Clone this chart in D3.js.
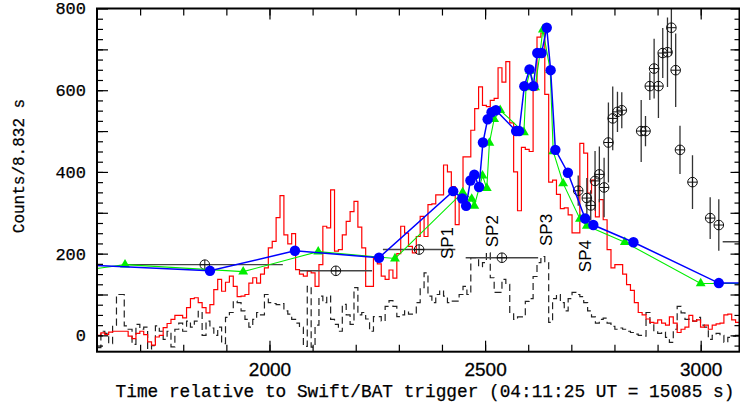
<!DOCTYPE html>
<html>
<head>
<meta charset="utf-8">
<script src="https://cdnjs.cloudflare.com/ajax/libs/d3/7.8.5/d3.min.js"></script>
<style>
body { margin: 0; background: #fff; }
</style>
</head>
<body>
<script>
// light curve bins
var binStart = 1600
var binWidth = 9.03
var redCounts = [0,6,2,8,10,10,10,10,-2,-8,
	5,10,2,-16,-24,-4,0,19,29,39,
	49,49,43,68,90,92,80,68,55,75,
	112,137,108,130,145,120,95,96,100,128,
	141,128,150,165,214,230,288,342,246,224,
	249,161,150,145,157,153,120,173,267,263,
	356,206,210,246,279,303,328,265,214,120,
	120,190,175,145,137,160,140,200,267,250,
	218,202,242,291,242,320,322,344,344,417,
	400,364,271,340,437,437,502,555,608,563,
	560,575,580,655,620,670,520,400,305,460,
	455,450,600,730,740,590,375,380,345,310,
	312,295,251,251,470,446,348,380,290,332,
	283,210,165,173,173,150,124,110,80,56,
	50,40,32,30,38,30,25,45,30,7,
	15,20,49,35,38,20,25,15,25,28,
	30,50,52,38,32]
var dashCounts = [-30,10,5,-20,25,100,100,23,15,-22,
	27,15,20,-34,-25,23,10,-10,10,-28,
	15,30,10,35,20,35,59,0,35,18,
	0,20,-20,44,56,84,80,60,39,20,
	39,56,50,100,80,78,75,78,60,52,
	39,30,20,-27,120,-29,25,96,80,96,
	39,27,10,76,50,27,117,50,56,40,
	10,46,46,35,71,85,71,46,50,60,
	52,55,80,117,153,96,80,100,110,96,
	80,84,84,100,120,100,190,190,168,178,
	202,141,105,105,137,125,56,39,45,45,
	83,90,144,178,193,178,32,90,100,80,
	60,90,105,100,95,80,60,45,30,39,
	42,30,22,15,18,15,10,7,3,0,
	-2,56,30,10,5,8,-5,-17,15,71,
	55,39,40,35,44,25,20,-10,0,5,
	0,-17,-5,-2,0]

var blueTime = [1560, 1862, 2059, 2254, 2426, 2447, 2456, 2466, 2475, 2486, 2495, 2506, 2515, 2525, 2572,
	2579, 2591, 2603, 2612, 2621, 2631, 2643, 2652, 2663, 2692, 2732, 2751, 2844, 3042, 3130]
var blueCounts = [173, 158, 207, 190, 353, 335, 317, 379, 393, 363, 472, 529, 546, 551, 500,
	500, 610, 651, 610, 691, 691, 753, 649, 454, 398, 286, 270, 228, 128, 128]

var greenTime = [1560, 1665, 1939, 2113, 2291, 2448, 2469, 2475, 2494, 2504, 2510, 2521, 2535, 2590,
	2595, 2604, 2616, 2627, 2634, 2651, 2658, 2681, 2720, 2736, 2824, 3000, 3130]
var greenCounts = [158, 173, 156, 205, 188, 350, 334, 317, 391, 360, 471, 529, 551, 497,
	607, 647, 607, 688, 748, 649, 450, 372, 285, 268, 228, 127, 127]

var batTime = [1850, 2154, 2347, 2539, 2716, 2736, 2745, 2755, 2765, 2776, 2786, 2796, 2807, 2817,
	2862, 2872, 2882, 2892, 2902, 2912, 2923, 2932, 2942, 2952, 2981, 3022, 3042, 3135]
var batCounts = [173, 158, 210, 190, 354, 336, 318, 378, 394, 362, 472, 531, 547, 551,
	500, 500, 610, 653, 610, 691, 693, 753, 649, 454, 375, 287, 270, 229]
var batXerr = [181, 84, 84, 84, 0, 0, 0, 0, 0, 0, 0, 0, 0, 0,
	0, 0, 0, 0, 0, 0, 0, 0, 0, 0, 0, 0, 0, 84]
var batYerr = [0, 0, 0, 0, 37, 49, 37, 73, 68, 73, 98, 78, 49, 44,
	76, 37, 34, 73, 78, 61, 85, 68, 90, 59, 66, 51, 63, 0]

var spNames = ["SP1", "SP2", "SP3", "SP4"]
var spTime = [2412, 2515, 2641, 2732]
var spCounts = [226, 255, 258, 194]

var xTickLabels = [2000, 2500, 3000]
var yTickLabels = [0, 200, 400, 600, 800]

function main() {
	var w = 740
	var h = 414
	var left = 97, right = 739.5, top = 8.5, bottom = 351.7

	var xScale = d3.scaleLinear().domain([1600, 3090]).range([left, right])
	var yScale = d3.scaleLinear().domain([-40, 800]).range([bottom, top])

	var svg = d3.select("body")
		.append("svg")
		.attr("width", w)
		.attr("height", h)

	svg.append("clipPath")
		.attr("id", "plotArea")
		.append("rect")
		.attr("x", left)
		.attr("y", top)
		.attr("width", right - left)
		.attr("height", bottom - top)

	var plot = svg.append("g").attr("clip-path", "url(#plotArea)")

	var stepLine = d3.line()
		.x((d) => xScale(d[0]))
		.y((d) => yScale(d[1]))
		.curve(d3.curveStepAfter)

	plot.append("path")
		.datum(histPoints(dashCounts))
		.attr("d", stepLine)
		.attr("fill", "none")
		.attr("stroke", "#222")
		.attr("stroke-width", 1.2)
		.attr("stroke-dasharray", "7,4")

	plot.append("path")
		.datum(histPoints(redCounts))
		.attr("d", stepLine)
		.attr("fill", "none")
		.attr("stroke", "#ff0000")
		.attr("stroke-width", 1.2)

	// BAT points: error bars then circled crosses
	var bat = batTime.map((t, i) => ({ t: t, c: batCounts[i], xe: batXerr[i], ye: batYerr[i] }))

	plot.selectAll(".xerr")
		.data(bat.filter((d) => d.xe > 0))
		.enter().append("line")
		.attr("x1", (d) => xScale(d.t - d.xe))
		.attr("x2", (d) => xScale(d.t + d.xe))
		.attr("y1", (d) => yScale(d.c))
		.attr("y2", (d) => yScale(d.c))
		.attr("stroke", "#444")
		.attr("stroke-width", 1.4)

	plot.selectAll(".yerr")
		.data(bat.filter((d) => d.ye > 0))
		.enter().append("line")
		.attr("x1", (d) => xScale(d.t))
		.attr("x2", (d) => xScale(d.t))
		.attr("y1", (d) => yScale(d.c - d.ye))
		.attr("y2", (d) => yScale(d.c + d.ye))
		.attr("stroke", "#333")
		.attr("stroke-width", 1.3)

	var marks = plot.selectAll(".bat")
		.data(bat)
		.enter().append("g")
		.attr("transform", (d) => "translate(" + xScale(d.t) + "," + yScale(d.c) + ")")
	marks.append("circle")
		.attr("r", 4.8)
		.attr("fill", "none")
		.attr("stroke", "#111")
		.attr("stroke-width", 1)
	marks.append("path")
		.attr("d", "M-4.8,0H4.8M0,-4.8V4.8")
		.attr("stroke", "#111")
		.attr("stroke-width", 1)

	// green triangles
	var line = d3.line()
		.x((d) => xScale(d[0]))
		.y((d) => yScale(d[1]))

	plot.append("path")
		.datum(greenTime.map((t, i) => [t, greenCounts[i]]))
		.attr("d", line)
		.attr("fill", "none")
		.attr("stroke", "#00ee00")
		.attr("stroke-width", 1.1)

	plot.selectAll(".tri")
		.data(greenTime.map((t, i) => [t, greenCounts[i]]))
		.enter().append("path")
		.attr("d", d3.symbol(d3.symbolTriangle).size(42))
		.attr("transform", (d) => "translate(" + xScale(d[0]) + "," + yScale(d[1]) + ")")
		.attr("fill", "#00ee00")

	// blue circles
	plot.append("path")
		.datum(blueTime.map((t, i) => [t, blueCounts[i]]))
		.attr("d", line)
		.attr("fill", "none")
		.attr("stroke", "#0000ff")
		.attr("stroke-width", 1.5)

	plot.selectAll(".dot")
		.data(blueTime.map((t, i) => [t, blueCounts[i]]))
		.enter().append("circle")
		.attr("cx", (d) => xScale(d[0]))
		.attr("cy", (d) => yScale(d[1]))
		.attr("r", 5.2)
		.attr("fill", "#0000ff")

	// SP labels
	svg.selectAll(".sp")
		.data(spNames)
		.enter().append("text")
		.attr("transform", (d, i) => "translate(" + xScale(spTime[i]) + "," + yScale(spCounts[i]) + ") rotate(-90)")
		.attr("text-anchor", "middle")
		.attr("dy", "0.36em")
		.style("font-family", "'Liberation Sans', Arial, sans-serif")
		.style("font-size", "17px")
		.text((d) => d)

	// axes, ticks pointing inwards
	var xMinor = d3.range(1700, 3090, 100)
	var yMinor = d3.range(-25, 800, 25)
	var yMajor = d3.range(0, 900, 100)

	drawAxis(svg, d3.axisBottom(xScale).tickValues(xMinor).tickSizeInner(-7).tickFormat(""), 0, bottom)
	drawAxis(svg, d3.axisTop(xScale).tickValues(xMinor).tickSizeInner(-7).tickFormat(""), 0, top)
	drawAxis(svg, d3.axisTop(xScale).tickValues(xTickLabels).tickSizeInner(-11).tickFormat(""), 0, top)
	drawAxis(svg, d3.axisLeft(yScale).tickValues(yMinor).tickSizeInner(-6).tickFormat(""), left, 0)
	drawAxis(svg, d3.axisRight(yScale).tickValues(yMinor).tickSizeInner(-5).tickFormat(""), right, 0)
	drawAxis(svg, d3.axisRight(yScale).tickValues(yMajor).tickSizeInner(-9).tickFormat(""), right, 0)

	var xAxis = drawAxis(svg, d3.axisBottom(xScale).tickValues(xTickLabels).tickSizeInner(-11).tickPadding(11)
		.tickFormat(d3.format("d")), 0, bottom)
	xAxis.selectAll("text")
		.style("font-family", "'Liberation Sans', Arial, sans-serif")
		.style("font-size", "19px")
		.attr("fill", "#000")
		.attr("stroke", "#000")
		.attr("stroke-width", 0.3)

	var yAxis = drawAxis(svg, d3.axisLeft(yScale).tickValues(yMajor).tickSizeInner(-11).tickPadding(11)
		.tickFormat((d) => (yTickLabels.indexOf(d) >= 0 ? d : "")), left, 0)
	yAxis.selectAll("text")
		.style("font-family", "'Liberation Mono', 'DejaVu Sans Mono', monospace")
		.style("font-size", "17px")
		.attr("fill", "#000")
		.attr("stroke", "#000")
		.attr("stroke-width", 0.25)

	svg.append("rect")
		.attr("x", left)
		.attr("y", top)
		.attr("width", right - left)
		.attr("height", bottom - top)
		.attr("fill", "none")
		.attr("stroke", "#000")
		.attr("stroke-width", 2)

	svg.append("text")
		.attr("x", 425)
		.attr("y", 397)
		.attr("text-anchor", "middle")
		.style("font-family", "'Liberation Mono', 'DejaVu Sans Mono', monospace")
		.style("font-size", "17.8px")
		.attr("stroke", "#000")
		.attr("stroke-width", 0.25)
		.text("Time relative to Swift/BAT trigger (04:11:25 UT = 15085 s)")

	svg.append("text")
		.attr("transform", "translate(24,166) rotate(-90)")
		.attr("text-anchor", "middle")
		.style("font-family", "'Liberation Mono', 'DejaVu Sans Mono', monospace")
		.style("font-size", "16px")
		.attr("stroke", "#000")
		.attr("stroke-width", 0.25)
		.text("Counts/8.832 s")
}

function histPoints(counts) {
	var pts = counts.map((c, i) => [binStart + i * binWidth, c])
	pts.push([binStart + counts.length * binWidth, counts[counts.length - 1]])
	return pts
}

function drawAxis(svg, axis, x, y) {
	var g = svg.append("g")
		.attr("transform", "translate(" + x + "," + y + ")")
		.call(axis.tickSizeOuter(0))
	g.select(".domain").remove()
	g.selectAll("line").attr("stroke", "#000").attr("stroke-width", 1.2)
	return g
}

main()
</script>
</body>
</html>
